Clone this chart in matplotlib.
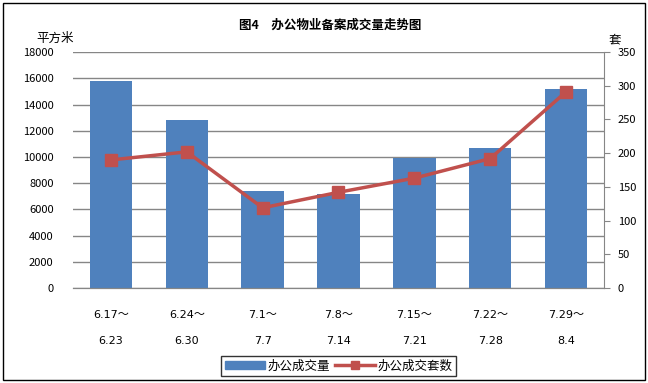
import matplotlib

matplotlib.use("Agg")
import matplotlib.pyplot as plt
from matplotlib.lines import Line2D
from matplotlib.patches import Patch, Rectangle

plt.rcParams["font.family"] = ["Noto Sans CJK SC", "DejaVu Sans"]

# ---- data ---------------------------------------------------------
weeks = ["6.17～\n\n6.23", "6.24～\n\n6.30", "7.1～\n\n7.7", "7.8～\n\n7.14",
         "7.15～\n\n7.21", "7.22～\n\n7.28", "7.29～\n\n8.4"]
area = [15800, 12800, 7400, 7150, 9900, 10650, 15150]   # 办公成交量, 平方米
units = [190, 202, 119, 142, 163, 192, 291]             # 办公成交套数, 套

BAR = "#4F81BD"
LINE = "#C0504D"
GRID = "#868686"

fig = plt.figure(figsize=(6.48, 3.83), dpi=100)
fig.patches.append(Rectangle((0.005, 0.008), 0.99, 0.985, transform=fig.transFigure,
                             fill=False, edgecolor="black", lw=1.0))
ax = fig.add_axes([0.1127, 0.248, 0.8193, 0.616])
ax2 = ax.twinx()

x = range(len(weeks))
ax.bar(x, area, width=0.56, color=BAR, zorder=2)
ax2.plot(x, units, color=LINE, lw=2.5, marker="s", ms=8, zorder=3)

ax.set_xlim(-0.5, len(weeks) - 0.5)
ax.set_ylim(0, 18000)
ax.set_yticks(range(0, 18001, 2000))
ax2.set_ylim(0, 350)
ax2.set_yticks(range(0, 351, 50))
ax.yaxis.grid(True, color=GRID, lw=1)
ax.set_axisbelow(True)

ax.set_xticks(list(x))
ax.set_xticklabels(weeks, fontsize=8, linespacing=1.35,
                   family=["DejaVu Sans", "Noto Sans CJK SC"])
ax.tick_params(axis="x", length=0, pad=16)
ax.tick_params(axis="y", length=0, labelsize=8, pad=14)
ax2.tick_params(axis="y", length=4, labelsize=8, color=GRID, direction="out", pad=6)

for a in (ax, ax2):
    a.spines["top"].set_visible(False)
    a.spines["left"].set_visible(False)
    a.spines["bottom"].set_color(GRID)
ax2.spines["right"].set_color(GRID)
ax.spines["right"].set_visible(False)

fig.text(0.51, 0.935, "图4　办公物业备案成交量走势图", ha="center", va="center",
         fontsize=9, fontweight="bold")
fig.text(0.085, 0.9, "平方米", ha="center", va="center", fontsize=9)
fig.text(0.948, 0.895, "套", ha="center", va="center", fontsize=9)

handles = [Patch(color=BAR),
           Line2D([], [], color=LINE, lw=2.5, marker="s", ms=6)]
fig.legend(handles, ["办公成交量", "办公成交套数"], loc="center",
           bbox_to_anchor=(0.523, 0.045), ncol=2, fontsize=9, frameon=True,
           fancybox=False, edgecolor="black", handlelength=3.2,
           handletextpad=0.2, columnspacing=0.4, borderpad=0.3)

fig.savefig("out.png", dpi=100)
plt.close(fig)
